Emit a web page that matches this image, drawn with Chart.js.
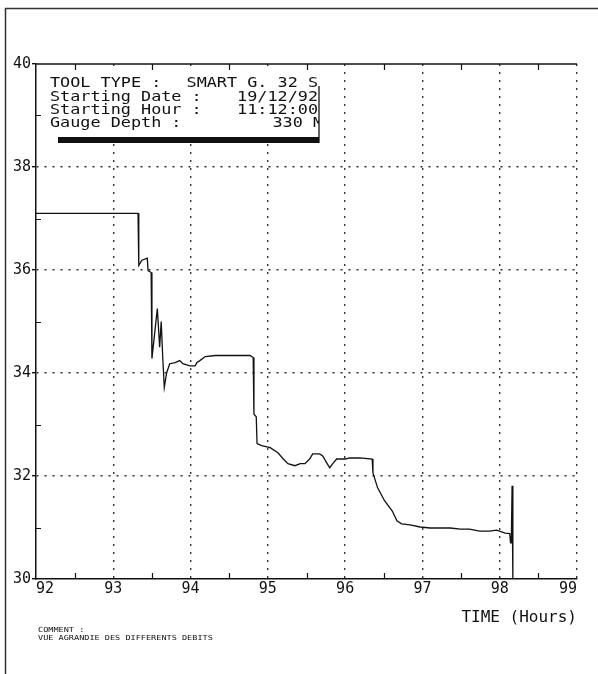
<!DOCTYPE html>
<html>
<head>
<meta charset="utf-8">
<script src="https://cdn.jsdelivr.net/npm/chart.js@4"></script>
<style>
html,body{margin:0;padding:0;background:#fff;}
canvas{display:block;}
</style>
</head>
<body>
<canvas id="c" width="598" height="674"></canvas>
<script>
// ---- data ----
const times = [92.00, 93.32, 93.33, 93.37, 93.44, 93.45, 93.49, 93.50, 93.57, 93.60, 93.62, 93.64, 93.66, 93.69, 93.73, 93.80, 93.86, 93.90, 93.99, 94.06, 94.08, 94.12, 94.19, 94.32, 94.77, 94.81, 94.82, 94.85, 94.86, 94.92, 95.03, 95.13, 95.20, 95.26, 95.35, 95.42, 95.48, 95.54, 95.58, 95.67, 95.71, 95.76, 95.80, 95.84, 95.89, 96.00, 96.06, 96.19, 96.35, 96.36, 96.42, 96.51, 96.61, 96.67, 96.73, 96.84, 96.97, 97.10, 97.23, 97.36, 97.49, 97.61, 97.74, 97.87, 97.96, 98.07, 98.13, 98.14, 98.15, 98.16, 98.17];
const pressures = [37.10, 37.10, 36.09, 36.19, 36.23, 35.99, 35.95, 34.28, 35.25, 34.50, 35.00, 34.30, 33.72, 34.00, 34.18, 34.20, 34.24, 34.18, 34.14, 34.14, 34.20, 34.24, 34.32, 34.34, 34.34, 34.30, 33.20, 33.15, 32.63, 32.59, 32.55, 32.45, 32.33, 32.24, 32.20, 32.24, 32.24, 32.33, 32.43, 32.43, 32.39, 32.26, 32.16, 32.24, 32.33, 32.33, 32.35, 32.35, 32.33, 32.06, 31.77, 31.52, 31.32, 31.13, 31.07, 31.05, 31.01, 30.99, 30.99, 30.99, 30.97, 30.97, 30.93, 30.93, 30.95, 30.89, 30.88, 30.70, 30.70, 31.81, 30.00];
const xMin = 92, xMax = 99, xStep = 0.5;
const yMin = 30, yMax = 40, yStep = 1;
const xAxisTitle = 'TIME (Hours)';
const headerLabels = ['TOOL TYPE :', 'Starting Date :', 'Starting Hour :', 'Gauge Depth :'];
const headerValues = ['SMART G. 32 S', '19/12/92', '11:12:00', '330 M'];
const commentLines = ['COMMENT :', 'VUE AGRANDIE DES DIFFERENTS DEBITS'];

const points = times.map((t, i) => ({x: t, y: pressures[i]}));
const MONO = '"DejaVu Sans Mono", "Liberation Mono", monospace';
const INK = '#111';

const decor = {
  id: 'decor',
  beforeDraw(chart) {
    const ctx = chart.ctx;
    ctx.save();
    ctx.fillStyle = '#fff';
    ctx.fillRect(0, 0, chart.width, chart.height);
    ctx.strokeStyle = '#333';
    ctx.lineWidth = 1.5;
    ctx.beginPath();
    ctx.moveTo(5.5, chart.height);
    ctx.lineTo(5.5, 8.5);
    ctx.lineTo(chart.width, 8.5);
    ctx.stroke();
    ctx.restore();
  },
  afterDraw(chart) {
    const ctx = chart.ctx;
    const a = chart.chartArea;
    const xs = chart.scales.x, ys = chart.scales.y;
    ctx.save();
    ctx.strokeStyle = INK;
    ctx.lineWidth = 1.5;
    // top frame line
    ctx.beginPath();
    ctx.moveTo(a.left, a.top);
    ctx.lineTo(a.right, a.top);
    ctx.stroke();
    // inward minor ticks
    ctx.lineWidth = 1.2;
    ctx.beginPath();
    xs.ticks.forEach(tk => {
      if (!Number.isInteger(tk.value)) {
        const px = Math.round(xs.getPixelForValue(tk.value)) + 0.5;
        ctx.moveTo(px, a.bottom); ctx.lineTo(px, a.bottom - 6);
        ctx.moveTo(px, a.top); ctx.lineTo(px, a.top + 6);
      }
    });
    ys.ticks.forEach(tk => {
      if (tk.value % 2 !== 0) {
        const py = Math.round(ys.getPixelForValue(tk.value)) + 0.5;
        ctx.moveTo(a.left, py); ctx.lineTo(a.left + 5, py);
      }
    });
    ctx.stroke();

    // header box
    const bx0 = a.left + 8, bx1 = 319, by0 = a.top + 8, by1 = 144;
    ctx.fillStyle = '#fff';
    ctx.fillRect(bx0, by0, bx1 - bx0, by1 - by0);
    ctx.fillStyle = INK;
    ctx.fillRect(58, 137, bx1 - 58, 6);
    ctx.beginPath();
    ctx.rect(bx0, a.top + 2, bx1 - bx0, by1 - a.top);
    ctx.clip();
    ctx.font = '14px ' + MONO;
    ctx.textBaseline = 'alphabetic';
    const bases = [87, 101, 114, 127];
    headerLabels.forEach((s, i) => {
      ctx.save();
      ctx.translate(50, bases[i]);
      ctx.scale(1.2, 1);
      ctx.textAlign = 'left';
      ctx.fillText(s, 0, 0);
      ctx.restore();
      ctx.save();
      ctx.translate(i === 3 ? 323 : 318, bases[i]);
      ctx.scale(1.2, 1);
      ctx.textAlign = 'right';
      ctx.fillText(headerValues[i], 0, 0);
      ctx.restore();
    });
    ctx.restore();
    ctx.save();
    ctx.strokeStyle = INK;
    ctx.lineWidth = 1.3;
    ctx.beginPath();
    ctx.moveTo(319, 86); ctx.lineTo(319, 143);
    ctx.stroke();

    // comment
    ctx.fillStyle = INK;
    ctx.font = '7px ' + MONO;
    [632, 640].forEach((y, i) => {
      ctx.save();
      ctx.translate(38, y);
      ctx.scale(1.22, 1);
      ctx.fillText(commentLines[i], 0, 0);
      ctx.restore();
    });
    ctx.restore();
  }
};

new Chart(document.getElementById('c'), {
  type: 'scatter',
  data: {
    datasets: [{
      data: points,
      showLine: true,
      borderColor: INK,
      borderWidth: 1.3,
      pointRadius: 0,
      tension: 0,
      fill: false
    }]
  },
  options: {
    responsive: false,
    animation: false,
    devicePixelRatio: 1,
    layout: { padding: { top: 64, right: 21, bottom: 43, left: 0 } },
    plugins: { legend: { display: false }, tooltip: { enabled: false }, title: { display: false } },
    scales: {
      x: {
        type: 'linear',
        min: xMin, max: xMax,
        afterFit(s) { s.height = 52; },
        ticks: {
          stepSize: xStep,
          autoSkip: false,
          maxRotation: 0,
          align: 'inner',
          padding: 1,
          color: INK,
          font: { family: MONO, size: 15 },
          callback: v => Number.isInteger(v) ? String(v) : ''
        },
        grid: {
          drawTicks: false,
          lineWidth: 1.4,
          color: c => (c.tick && Number.isInteger(c.tick.value) && c.tick.value !== xMin) ? '#333' : 'rgba(0,0,0,0)'
        },
        border: { display: true, color: INK, width: 1.5, dash: [2, 6] },
        title: {
          display: true,
          text: xAxisTitle,
          align: 'end',
          color: INK,
          font: { family: MONO, size: 16 },
          padding: { top: 0, bottom: 4 }
        }
      },
      y: {
        type: 'linear',
        min: yMin, max: yMax,
        afterFit(s) { s.width = 36; },
        ticks: {
          stepSize: yStep,
          autoSkip: false,
          padding: 1,
          color: INK,
          font: { family: MONO, size: 15 },
          callback: v => (v % 2 === 0) ? String(v) : ''
        },
        grid: {
          drawTicks: true,
          tickLength: 4,
          lineWidth: 1.4,
          color: c => (c.tick && c.tick.value % 2 === 0 && c.tick.value !== yMin && c.tick.value !== yMax) ? '#333' : 'rgba(0,0,0,0)',
          tickColor: c => (c.tick && c.tick.value % 2 === 0) ? INK : 'rgba(0,0,0,0)'
        },
        border: { display: true, color: INK, width: 1.5, dash: [2, 6] }
      }
    }
  },
  plugins: [decor]
});
</script>
</body>
</html>
